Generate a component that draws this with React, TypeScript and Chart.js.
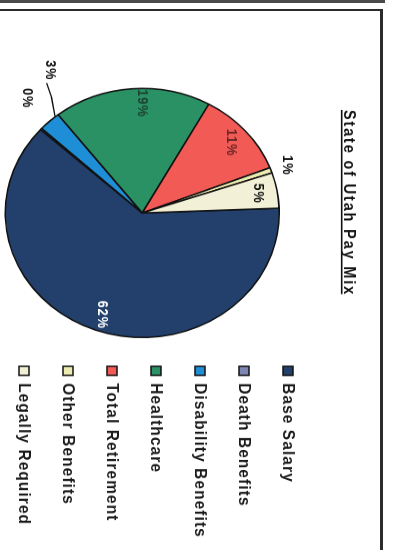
import React, { useEffect, useRef } from 'react';
import { Chart, registerables } from 'chart.js';

Chart.register(...registerables);

// ---- data ----
const categories = [
  'Base Salary',
  'Death Benefits',
  'Disability Benefits',
  'Healthcare',
  'Total Retirement',
  'Other Benefits',
  'Legally Required',
];
const payShare = [62.3, 0.2, 2.6, 18.6, 11.0, 0.7, 4.6];
const chartTitle = 'State of Utah Pay Mix';

// ---- styles ----
const sliceColors = ['#22406b', '#7d86b0', '#1e8fd6', '#2a9164', '#f25a55', '#ecebb0', '#f2f0d6'];
const labelColors = ['#ffffff', '#111111', '#111111', 'rgba(25,45,35,0.8)', 'rgba(70,25,25,0.8)', '#111111', '#111111'];
// radial factor (of outer radius) and angular shift (deg) for each percentage label
const labelRadius = [0.87, 1.25, 1.33, 0.88, 0.86, 1.12, 0.86];
const labelShift = [0, 5, 12, 4, 0, 0, 0];
const labelLeader = [false, false, true, false, false, false, false];
const FONT = '"Liberation Sans", Arial, Helvetica, sans-serif';
const LEGEND_FONT_SIZE = 17;
const LEGEND_SPACING = '1.2px';
const LEGEND_BOX = 10;
const LEGEND_PAD = 27;
const LEGEND_LEFT = 376;

// local (unrotated) canvas size; page shows it rotated 90deg clockwise
const W = 640;
const H = 432;

export default function App() {
  const ref = useRef<HTMLCanvasElement>(null);

  useEffect(() => {
    const canvas = ref.current;
    if (!canvas) return;

    // measure legend text so the legend box starts where it should
    const mctx = document.createElement('canvas').getContext('2d') as any;
    mctx.font = `bold ${LEGEND_FONT_SIZE}px ${FONT}`;
    mctx.letterSpacing = LEGEND_SPACING;
    const maxText = Math.max(...categories.map((c) => mctx.measureText(c).width));
    const legendWidth = LEGEND_PAD + LEGEND_BOX + LEGEND_FONT_SIZE / 2 + maxText + 10;
    const padRight = Math.max(0, W - LEGEND_LEFT - legendWidth);

    const spacingPlugin = {
      id: 'spacing',
      beforeUpdate(chart: any) {
        (chart.ctx as any).letterSpacing = LEGEND_SPACING;
      },
      beforeDraw(chart: any) {
        (chart.ctx as any).letterSpacing = LEGEND_SPACING;
      },
    };

    const sliceLabels = {
      id: 'sliceLabels',
      afterDatasetsDraw(chart: any) {
        const ctx = chart.ctx;
        const meta = chart.getDatasetMeta(0);
        const data = chart.data.datasets[0].data as number[];
        const total = data.reduce((s: number, v: number) => s + v, 0);
        ctx.save();
        ctx.font = `bold 14px ${FONT}`;
        (ctx as any).letterSpacing = '1px';
        ctx.textAlign = 'center';
        ctx.textBaseline = 'middle';
        meta.data.forEach((el: any, i: number) => {
          const p = el.getProps(['x', 'y', 'startAngle', 'endAngle', 'outerRadius'], true);
          const midRaw = (p.startAngle + p.endAngle) / 2;
          const mid = midRaw + (labelShift[i] * Math.PI) / 180;
          const lx = p.x + Math.cos(mid) * p.outerRadius * labelRadius[i];
          const ly = p.y + Math.sin(mid) * p.outerRadius * labelRadius[i];
          if (labelLeader[i]) {
            const a0 = midRaw + (3 * Math.PI) / 180;
            const a1 = midRaw + (7 * Math.PI) / 180;
            ctx.beginPath();
            ctx.strokeStyle = '#111';
            ctx.lineWidth = 1.3;
            ctx.moveTo(p.x + Math.cos(a0) * p.outerRadius, p.y + Math.sin(a0) * p.outerRadius);
            ctx.lineTo(p.x + Math.cos(a1) * p.outerRadius * 1.14, p.y + Math.sin(a1) * p.outerRadius * 1.14);
            ctx.lineTo(lx + 14, ly + 3);
            ctx.stroke();
          }
          ctx.fillStyle = labelColors[i];
          ctx.fillText(Math.round((data[i] / total) * 100) + '%', lx, ly);
        });
        ctx.restore();
      },
    };

    const underlinedTitle = {
      id: 'underlinedTitle',
      afterDraw(chart: any) {
        const ctx = chart.ctx;
        const area = chart.chartArea;
        const cx = (area.left + area.right) / 2 - 11;
        const cy = 48.5;
        ctx.save();
        ctx.font = `bold 16px ${FONT}`;
        (ctx as any).letterSpacing = '2px';
        ctx.textAlign = 'center';
        ctx.textBaseline = 'alphabetic';
        ctx.fillStyle = '#111';
        ctx.fillText(chartTitle, cx, cy);
        const w = ctx.measureText(chartTitle).width;
        ctx.fillRect(cx - w / 2, cy + 2, w - 2, 1.6);
        ctx.restore();
      },
    };

    const chart = new Chart(canvas, {
      type: 'pie',
      data: {
        labels: categories,
        datasets: [
          {
            data: payShare,
            backgroundColor: sliceColors,
            borderColor: '#111111',
            borderWidth: 1.6,
          },
        ],
      },
      options: {
        responsive: false,
        animation: false,
        events: [],
        rotation: -2.2,
        radius: 137,
        layout: { padding: { top: 69.5, bottom: 0, left: 92.6, right: padRight } },
        plugins: {
          legend: {
            position: 'right',
            align: 'start',
            labels: {
              boxWidth: LEGEND_BOX,
              boxHeight: LEGEND_BOX,
              padding: LEGEND_PAD,
              color: '#1a1a1a',
              font: { family: FONT, size: LEGEND_FONT_SIZE, weight: 'bold' },
            },
          },
          title: { display: false },
          tooltip: { enabled: false },
        },
      },
      plugins: [spacingPlugin, sliceLabels, underlinedTitle],
    } as any);

    return () => chart.destroy();
  }, []);

  return (
    <div
      style={{
        position: 'fixed',
        left: 0,
        top: 0,
        width: 393,
        height: 550,
        overflow: 'hidden',
        background: '#ffffff',
      }}
    >
      <div
        style={{
          position: 'absolute',
          left: 0,
          top: 0,
          width: W,
          height: H,
          transformOrigin: '0 0',
          transform: 'translate(393px, 0px) rotate(90deg) scale(0.909, 1)',
        }}
      >
        <canvas ref={ref} width={W} height={H} style={{ display: 'block' }} />
      </div>
      {/* frame lines of the scanned page */}
      <div style={{ position: 'absolute', left: 0, top: 0, width: 385, height: 3, background: '#4a4a4a' }} />
      <div
        style={{
          position: 'absolute',
          left: -4,
          top: 9,
          width: 387,
          height: 560,
          borderTop: '2px solid #2b2b2b',
          borderRight: '3px solid #2b2b2b',
          boxSizing: 'border-box',
        }}
      />
    </div>
  );
}
